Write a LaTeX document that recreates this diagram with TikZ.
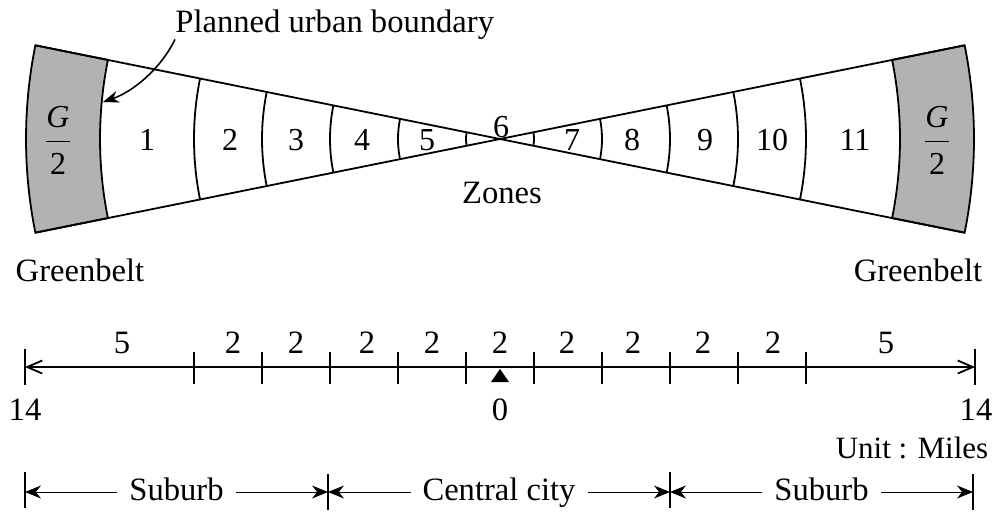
\documentclass[tikz,border=0pt]{standalone}
\usepackage{amsmath}
\usepackage{fontspec}
\setmainfont{Liberation Serif}
\usetikzlibrary{arrows.meta}
\definecolor{beltgray}{gray}{0.7}
\begin{document}
\begin{tikzpicture}[x=0.5pt,y=-0.5pt,
  outline/.style={line width=0.9pt, line join=miter},
  belt/.style={outline, fill=beltgray},
  lbl/.style={font=\fontsize{16.3}{19}\selectfont, inner sep=0pt},
  small/.style={font=\fontsize{15.5}{18}\selectfont, inner sep=0pt},
  zonenum/.style={font=\fontsize{16}{19}\selectfont, inner sep=0pt},
  tickline/.style={line width=0.9pt},
  barbs/.style={tickline, {Straight Barb[length=7.5pt,width=6.5pt]}-{Straight Barb[length=7.5pt,width=6.5pt]}},
  dimline/.style={line width=0.5pt, {Stealth[length=8pt,width=6.5pt]}-{Stealth[length=8pt,width=6.5pt]}},
  callout/.style={line width=0.8pt, -{Stealth[length=8pt,width=6pt]}},
  gap/.style={lbl, fill=white, inner xsep=6pt, inner ysep=1pt, text depth=0pt, yshift=1.5pt}
]
\useasboundingbox (0,0) rectangle (995,515);
\def\al{11.4}
\coordinate (C) at (500,139);

% greenbelts and bow-tie
\begin{scope}[shift={(C)}]
  \draw[belt] ({180-\al}:400) arc[start angle={180-\al}, end angle={180+\al}, radius=400]
     -- ({180+\al}:474) arc[start angle={180+\al}, end angle={180-\al}, radius=474] -- cycle;
  \draw[belt] ({-\al}:400) arc[start angle={-\al}, end angle={\al}, radius=400]
     -- ({\al}:474) arc[start angle={\al}, end angle={-\al}, radius=474] -- cycle;
  \draw[outline] ({180-\al}:474) -- ({-\al}:474);
  \draw[outline] ({180+\al}:474) -- ({\al}:474);
  \foreach \r in {34,102,170,238,306} {
    \draw[outline] ({180-\al}:\r) arc[start angle={180-\al}, end angle={180+\al}, radius=\r];
    \draw[outline] ({-\al}:\r) arc[start angle={-\al}, end angle={\al}, radius=\r];
  }
\end{scope}

% greenbelt fractions
\node[zonenum] (gl) at (58,140) {$\dfrac{\textit{G}}{\textrm{2}}$};
\node[zonenum] (gr) at (937,140) {$\dfrac{\textit{G}}{\textrm{2}}$};

% zone numbers
\node[zonenum] (z1) at (147,140) {1};
\node[zonenum] (z2) at (230,140) {2};
\node[zonenum] (z3) at (296,140) {3};
\node[zonenum] (z4) at (362,140) {4};
\node[zonenum] (z5) at (427,140) {5};
\node[zonenum] (z6) at (501,127) {6};
\node[zonenum] (z7) at (572,140) {7};
\node[zonenum] (z8) at (632,140) {8};
\node[zonenum] (z9) at (705,140) {9};
\node[zonenum] (z10) at (772,140) {10};
\node[zonenum] (z11) at (855,140) {11};

\node[lbl] (zones) at (502,193) {Zones};
\node[lbl] (gbl) at (80,270) {Greenbelt};
\node[lbl] (gbr) at (918,270) {Greenbelt};

% planned urban boundary callout
\node[lbl, anchor=base west] (pub) at (175,32) {Planned urban boundary};
\coordinate (pubtip) at (103,102);
\draw[callout] (pub.south west) .. controls (160,70) and (132,92) .. (pubtip);

% mile scale
\coordinate (sL) at (25,367);
\coordinate (sR) at (975,367);
\draw[barbs] (sL) -- (sR);
\draw[tickline] (25,349) -- (25,385);
\draw[tickline] (975,349) -- (975,385);
\foreach \m in {1,3,5,7,9} {
  \draw[tickline] ({500-34*\m},352) -- ({500-34*\m},384);
  \draw[tickline] ({500+34*\m},352) -- ({500+34*\m},384);
}
\fill (500,369) -- (491,382) -- (509,382) -- cycle;

\foreach \x/\t [count=\i] in {122/5,233/2,296/2,367/2,432/2,500/2,567/2,633/2,703/2,773/2,886/5}
  \node[lbl] (d\i) at (\x,343) {\t};

\node[lbl] (m14l) at (25,410) {14};
\node[lbl] (m0) at (500,410) {0};
\node[lbl] (m14r) at (976,410) {14};
\node[small] (unit) at (912,448) {Unit : Miles};

% city/suburb dimension line
\coordinate (b0) at (25,492);
\coordinate (b1) at (328,492);
\coordinate (b2) at (670,492);
\coordinate (b3) at (973,492);
\draw[tickline] (25,472) -- (25,508);
\draw[tickline] (328,474) -- (328,510);
\draw[tickline] (670,472) -- (670,508);
\draw[tickline] (973,474) -- (973,510);
\draw[dimline] (b0) -- node[gap] (sub1) {Suburb} (b1);
\draw[dimline] (b1) -- node[gap] (cc) {Central city} (b2);
\draw[dimline] (b2) -- node[gap] (sub2) {Suburb} (b3);
\end{tikzpicture}
\end{document}
